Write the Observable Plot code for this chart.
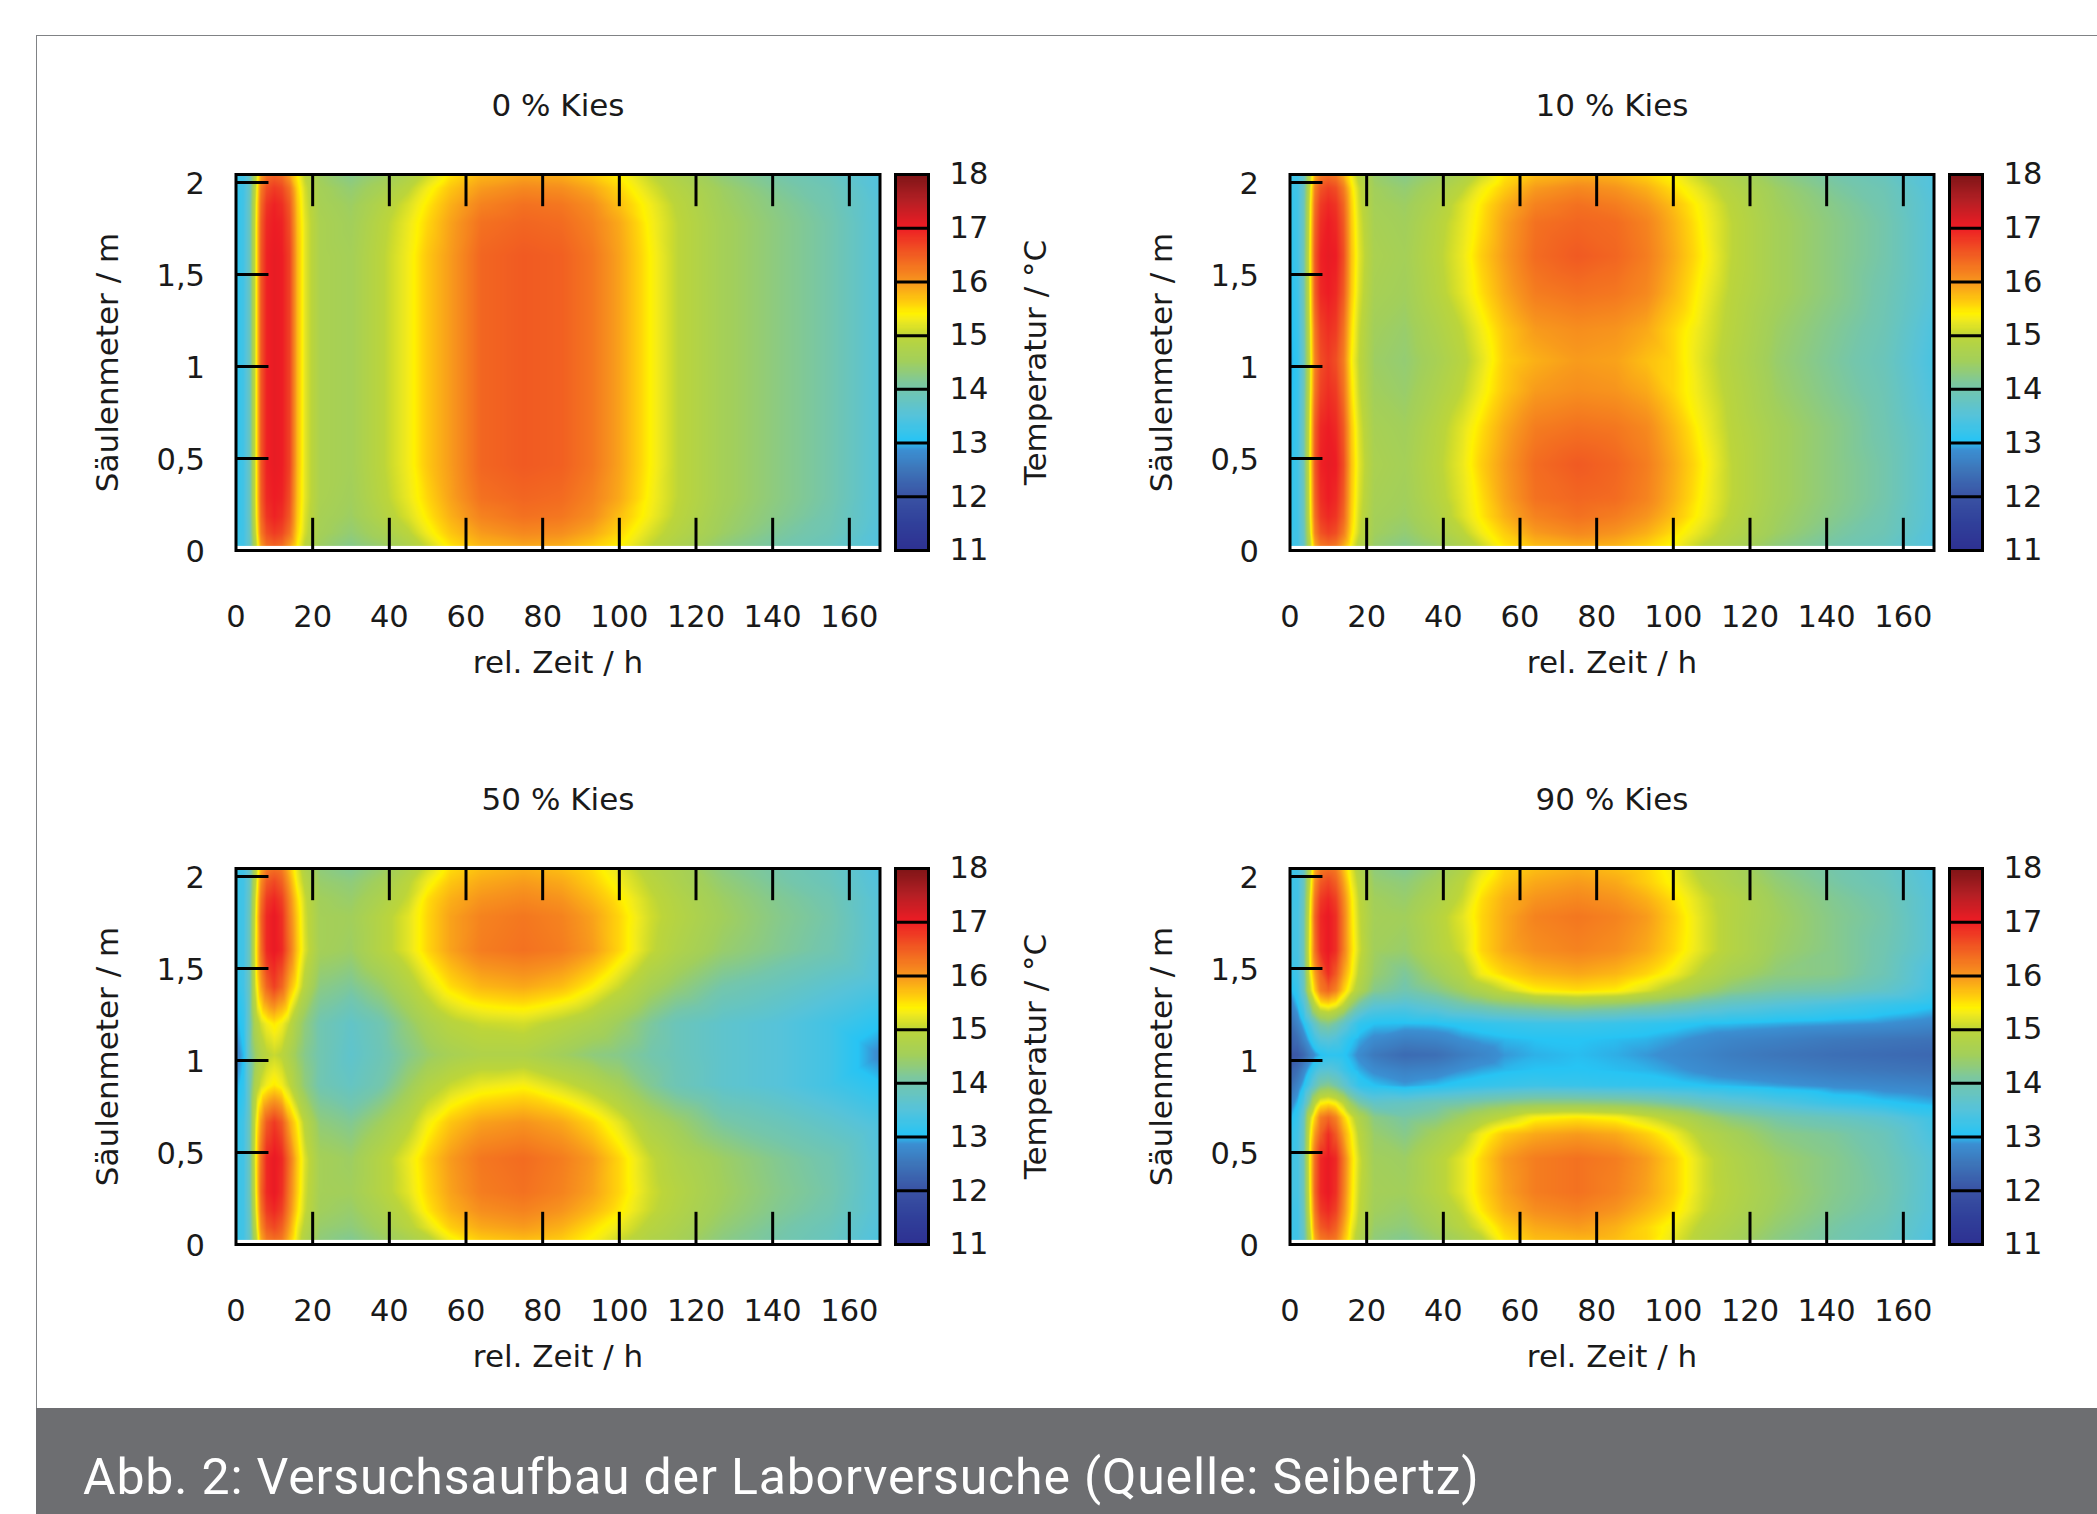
<!DOCTYPE html>
<html lang="de">
<head>
<meta charset="utf-8">
<title>Abb. 2</title>
<script src="https://cdn.jsdelivr.net/npm/d3@7"></script>
<script src="https://cdn.jsdelivr.net/npm/@observablehq/plot@0.6"></script>
<style>
html,body{margin:0;padding:0;background:#fff;width:2097px;height:1514px;overflow:hidden}
.abs{position:absolute}
#border{left:36px;top:35px;width:2061px;height:1373px;border-left:1.5px solid #808285;border-top:1.5px solid #808285;box-sizing:border-box}
#caption{left:36px;top:1408px;width:2061px;height:106px;background:#6d6e71;color:#fff;font-family:Roboto,sans-serif;font-size:50px;line-height:50px;padding:44px 0 0 47px;box-sizing:border-box;white-space:nowrap;letter-spacing:.83px}
</style>
</head>
<body>
<div id="border" class="abs"></div>
<div id="root"></div>
<div id="caption" class="abs"></div>
<script>
const captionText = "Abb. 2: Versuchsaufbau der Laborversuche (Quelle: Seibertz)";
const xLabel = "rel. Zeit / h";
const yLabel = "Säulenmeter / m";
const barLabel = "Temperatur / °C";
const xTicks = [0,20,40,60,80,100,120,140,160];
const yTicks = [0,0.5,1,1.5,2];
const barTicks = [11,12,13,14,15,16,17,18];

const times = [0,2,3.5,5,6.5,8,10,12,14,16,18,22,30,38,45,50,56,64,75,85,93,100,108,115,127,142,155,168];
const depths = [0.02,0.095,0.185,0.285,0.465,0.665,0.865,1.03,1.2,1.4,1.6,1.78,1.88,1.97,2.045];
const depths90 = [0.02,0.095,0.185,0.285,0.465,0.6,0.69,0.77,0.865,0.95,1.03,1.115,1.2,1.3,1.38,1.47,1.6,1.78,1.88,1.97,2.045];

const colorStops = [11,11.5,12,12.5,12.85,13.02,13.5,14,14.5,14.98,15.08,15.2,15.3,15.4,15.55,15.8,16,16.5,17,17.5,18];
const colorValues = ["#2e3192","#30409a","#3a53a4","#3d76ba","#3b8fd2","#27c4f4","#56c3da","#74c6ac","#a2cf5b","#bcd53a","#cfdc2c","#e4e524","#f5ec18","#fff200","#ffd50a","#fbb016","#f7941d","#f15a22","#ed1c24","#b31f24","#7c1416"];

// one row of temperatures per depth (bottom to top), one value per time
const k0mid = [13.1,13.3,13.8,15.1,16.5,16.95,17.05,17.0,16.7,15.75,15.2,14.65,14.55,14.95,15.3,15.65,15.95,16.4,16.5,16.45,16.25,15.9,15.4,15.0,14.55,14.25,14.0,13.5];
const k0near = [13.1,13.3,13.8,15.1,16.45,16.9,17.0,16.95,16.6,15.7,15.2,14.65,14.5,14.9,15.25,15.55,15.9,16.3,16.4,16.35,16.15,15.85,15.35,15.0,14.55,14.25,14.0,13.5];
const k0inner = [13.1,13.3,13.8,15.05,16.35,16.8,16.95,16.85,16.5,15.65,15.15,14.6,14.45,14.8,15.15,15.45,15.8,16.15,16.3,16.25,16.05,15.7,15.3,14.95,14.5,14.2,13.95,13.5];
const k0outer = [13.2,13.3,13.75,14.95,16.2,16.6,16.75,16.65,16.3,15.55,15.1,14.55,14.35,14.6,14.95,15.3,15.65,15.95,16.1,16.05,15.85,15.55,15.15,14.85,14.45,14.1,13.9,13.45];
const k0edge = [13.2,13.3,13.7,14.8,15.9,16.3,16.4,16.3,15.9,15.4,14.95,14.45,14.2,14.4,14.7,15.05,15.45,15.75,15.85,15.8,15.6,15.4,15.0,14.7,14.3,14.0,13.8,13.45];
const kies0 = [k0edge,k0outer,k0inner,k0near,k0mid,k0mid,k0mid,k0mid,k0mid,k0mid,k0mid,k0near,k0inner,k0outer,k0edge];

const k10blob = [13.05,13.3,13.85,15.15,16.5,16.95,17.05,17.0,16.6,15.7,15.2,14.65,14.55,14.9,15.25,15.6,15.95,16.35,16.5,16.4,16.2,15.85,15.4,15.0,14.55,14.25,14.0,13.5];
const k10shoulder = [13.0,13.25,13.85,15.1,16.45,16.9,17.0,16.9,16.5,15.65,15.15,14.6,14.5,14.85,15.2,15.5,15.85,16.2,16.3,16.25,16.1,15.75,15.3,14.95,14.55,14.25,13.95,13.5];
const k10neck = [12.95,13.2,13.8,15.0,16.25,16.7,16.85,16.75,16.3,15.5,15.05,14.5,14.4,14.7,15.0,15.3,15.65,15.95,16.05,16.0,15.85,15.55,15.2,14.9,14.45,14.15,13.9,13.4];
const k10mid = [12.9,13.15,13.75,14.95,16.15,16.6,16.75,16.6,16.2,15.4,15.0,14.45,14.35,14.6,14.9,15.2,15.6,15.8,15.95,15.9,15.7,15.55,15.15,14.85,14.4,14.1,13.85,13.35];
const k10near = [13.1,13.3,13.8,15.1,16.4,16.85,17.0,16.9,16.5,15.65,15.15,14.6,14.5,14.85,15.2,15.5,15.9,16.3,16.4,16.35,16.15,15.8,15.35,15.0,14.55,14.25,14.0,13.5];
const k10inner = [13.1,13.3,13.8,15.05,16.3,16.75,16.9,16.8,16.4,15.6,15.1,14.55,14.45,14.75,15.15,15.45,15.8,16.15,16.3,16.2,16.0,15.7,15.3,14.95,14.5,14.2,13.95,13.5];
const k10outer = [13.2,13.3,13.75,14.95,16.15,16.55,16.7,16.6,16.2,15.5,15.05,14.5,14.35,14.6,14.95,15.3,15.6,15.95,16.1,16.0,15.8,15.5,15.15,14.85,14.45,14.1,13.9,13.45];
const k10edge = [13.2,13.3,13.7,14.8,15.8,16.2,16.3,16.2,15.8,15.3,14.85,14.4,14.2,14.4,14.7,15.05,15.45,15.7,15.8,15.75,15.55,15.35,14.95,14.7,14.3,14.0,13.8,13.45];
const kies10 = [k10edge,k10outer,k10inner,k10near,k10blob,k10shoulder,k10neck,k10mid,k10neck,k10shoulder,k10blob,k10near,k10inner,k10outer,k10edge];

const kies50 = [
[13.2,13.3,13.7,14.75,15.8,16.2,16.3,16.2,15.7,15.2,14.75,14.3,14.15,14.4,14.6,14.85,15.3,15.6,15.7,15.6,15.35,15.05,14.75,14.6,14.25,14.0,13.8,13.4],
[13.2,13.3,13.75,14.9,16.05,16.5,16.65,16.45,15.9,15.3,14.9,14.4,14.3,14.55,14.9,15.2,15.6,15.85,15.95,15.8,15.5,15.25,14.9,14.7,14.35,14.05,13.85,13.45],
[13.2,13.3,13.8,15.05,16.25,16.75,16.9,16.7,16.1,15.5,15.05,14.5,14.4,14.7,15.05,15.45,15.8,16.05,16.15,16.0,15.75,15.45,15.05,14.8,14.45,14.15,13.95,13.5],
[13.2,13.3,13.85,15.15,16.4,16.9,17.05,16.85,16.2,15.6,15.1,14.55,14.5,14.85,15.2,15.55,15.9,16.2,16.3,16.15,15.9,15.55,15.1,14.85,14.5,14.2,14.0,13.5],
[13.2,13.3,13.85,15.2,16.3,16.9,17.05,16.9,16.3,15.65,15.15,14.55,14.45,14.85,15.25,15.6,15.95,16.25,16.35,16.2,15.95,15.55,15.05,14.75,14.45,14.15,13.95,13.5],
[13.1,13.3,13.85,15.1,15.95,16.5,16.75,16.5,15.85,15.4,14.9,14.3,14.15,14.5,14.9,15.3,15.65,15.9,16.0,15.85,15.55,15.2,14.7,14.45,14.05,13.85,13.65,13.4],
[12.9,13.15,13.85,14.7,15.1,15.3,15.45,15.3,15.0,14.6,14.3,13.95,13.75,14.0,14.45,14.8,15.05,15.25,15.35,15.1,14.85,14.55,14.15,13.9,13.65,13.5,13.3,13.05],
[12.7,13.0,13.9,14.4,14.75,14.95,15.05,14.95,14.7,14.4,14.2,13.95,13.65,13.9,14.2,14.4,14.6,14.75,14.75,14.5,14.3,14.2,14.0,13.85,13.65,13.5,13.3,12.8],
[12.9,13.15,13.85,14.7,15.1,15.3,15.45,15.3,15.0,14.6,14.3,13.95,13.7,13.95,14.35,14.65,14.9,15.05,15.1,14.9,14.7,14.45,14.1,13.85,13.65,13.5,13.3,13.05],
[13.1,13.3,13.85,15.1,15.9,16.4,16.7,16.4,15.8,15.35,14.85,14.25,14.1,14.4,14.8,15.15,15.5,15.75,15.85,15.7,15.4,15.05,14.6,14.35,14.0,13.8,13.6,13.4],
[13.2,13.3,13.85,15.2,16.3,16.9,17.05,16.9,16.3,15.65,15.15,14.55,14.45,14.85,15.2,15.55,15.9,16.2,16.3,16.2,15.95,15.55,15.05,14.75,14.4,14.15,13.95,13.5],
[13.2,13.3,13.85,15.15,16.4,16.9,17.05,16.85,16.2,15.6,15.1,14.55,14.5,14.85,15.2,15.55,15.9,16.15,16.25,16.15,15.9,15.55,15.1,14.85,14.5,14.2,14.0,13.5],
[13.2,13.3,13.8,15.05,16.25,16.75,16.9,16.7,16.1,15.5,15.05,14.5,14.4,14.7,15.05,15.5,15.8,16.0,16.1,16.0,15.75,15.45,15.05,14.8,14.45,14.15,13.95,13.5],
[13.2,13.3,13.75,14.9,16.05,16.5,16.65,16.45,15.9,15.3,14.9,14.4,14.3,14.55,14.95,15.3,15.65,15.85,15.95,15.85,15.6,15.3,14.95,14.7,14.35,14.05,13.85,13.45],
[13.2,13.3,13.7,14.75,15.8,16.2,16.3,16.2,15.7,15.2,14.75,14.3,14.15,14.4,14.75,15.1,15.5,15.7,15.8,15.7,15.5,15.2,14.85,14.65,14.25,14.0,13.8,13.4]
];
const kies90 = [
[13.2,13.3,13.7,14.75,15.8,16.2,16.3,16.2,15.7,15.2,14.75,14.3,14.15,14.4,14.6,14.9,15.45,15.7,15.75,15.7,15.55,15.2,14.8,14.6,14.25,14.0,13.8,13.4],
[13.2,13.3,13.75,14.9,16.05,16.5,16.65,16.45,15.9,15.3,14.9,14.4,14.3,14.55,14.9,15.2,15.6,15.85,15.95,15.8,15.55,15.3,14.9,14.7,14.35,14.05,13.85,13.45],
[13.25,13.3,13.8,15.05,16.25,16.75,16.9,16.7,16.1,15.45,15.0,14.5,14.4,14.7,15.05,15.45,15.8,16.05,16.15,16.0,15.75,15.5,15.05,14.8,14.45,14.15,13.95,13.5],
[13.3,13.35,13.85,15.15,16.4,16.9,17.05,16.85,16.2,15.5,15.05,14.55,14.5,14.85,15.2,15.55,15.9,16.2,16.3,16.15,15.9,15.6,15.1,14.85,14.5,14.2,14.0,13.5],
[13.25,13.35,13.85,15.2,16.35,16.9,17.05,16.9,16.25,15.55,15.1,14.5,14.45,14.85,15.2,15.55,15.95,16.2,16.3,16.2,15.95,15.6,15.1,14.8,14.45,14.2,13.95,13.5],
[13.1,13.3,13.8,15.1,15.95,16.45,16.85,16.5,15.9,15.4,14.95,14.4,14.2,14.55,14.9,15.3,15.65,15.85,15.95,15.85,15.6,15.3,14.85,14.6,14.25,14.1,13.85,13.35],
[12.95,13.2,13.75,14.9,15.6,16.2,16.4,16.15,15.6,15.15,14.75,14.25,14.05,14.2,14.5,14.75,15.0,15.35,15.45,15.35,15.1,14.85,14.5,14.25,14.0,13.8,13.6,13.25],
[12.7,13.0,13.4,14.1,14.9,15.35,15.45,15.3,14.95,14.4,14.05,13.7,13.75,13.9,14.0,14.1,14.2,14.3,14.3,14.25,14.15,14.0,13.8,13.65,13.45,13.2,13.05,12.95],
[12.4,12.7,13.0,13.35,13.75,14.1,14.2,14.0,13.7,13.4,13.15,13.02,12.9,13.0,13.1,13.15,13.2,13.25,13.2,13.15,13.12,13.08,13.02,12.98,12.9,12.8,12.75,12.7],
[12.2,12.4,12.7,13.0,13.3,13.5,13.55,13.45,13.25,13.05,12.95,12.8,12.65,12.7,12.85,12.92,12.98,13.02,13.03,13.0,12.97,12.9,12.8,12.72,12.65,12.55,12.5,12.45],
[12.05,12.1,12.3,12.6,12.85,13.0,13.1,13.1,13.05,12.95,12.8,12.55,12.35,12.4,12.6,12.72,12.88,12.96,13.0,12.95,12.88,12.8,12.7,12.6,12.5,12.4,12.35,12.3],
[12.2,12.4,12.7,13.0,13.3,13.5,13.55,13.45,13.25,13.05,12.95,12.8,12.65,12.7,12.85,12.92,12.98,13.02,13.03,13.0,12.97,12.9,12.8,12.72,12.65,12.55,12.5,12.45],
[12.4,12.7,13.0,13.35,13.75,14.1,14.2,14.0,13.7,13.4,13.15,13.02,13.0,13.02,13.1,13.15,13.2,13.25,13.25,13.2,13.15,13.1,13.02,13.0,12.95,12.9,12.85,12.75],
[12.7,13.0,13.4,14.1,14.9,15.35,15.45,15.3,14.95,14.4,14.0,13.6,13.5,13.7,13.95,14.05,14.2,14.3,14.4,14.3,14.15,14.0,13.8,13.65,13.5,13.35,13.2,13.05],
[12.95,13.2,13.75,14.9,15.6,16.2,16.4,16.15,15.6,15.15,14.75,14.2,13.95,14.2,14.5,14.75,15.05,15.4,15.5,15.42,15.15,14.85,14.5,14.25,14.05,13.95,13.7,13.3],
[13.1,13.3,13.8,15.1,15.9,16.4,16.85,16.5,15.9,15.4,14.95,14.4,14.1,14.5,14.85,15.3,15.55,15.75,15.85,15.75,15.55,15.3,14.9,14.6,14.3,14.2,13.9,13.35],
[13.25,13.35,13.85,15.2,16.3,16.85,17.05,16.85,16.2,15.55,15.1,14.5,14.4,14.8,15.1,15.55,15.85,16.05,16.15,16.05,15.85,15.55,15.15,14.85,14.45,14.2,13.95,13.5],
[13.3,13.35,13.85,15.15,16.4,16.9,17.05,16.85,16.2,15.5,15.05,14.55,14.5,14.85,15.2,15.55,15.85,16.15,16.25,16.15,15.95,15.6,15.15,14.85,14.5,14.2,14.0,13.5],
[13.25,13.3,13.8,15.05,16.25,16.75,16.9,16.7,16.1,15.45,15.0,14.5,14.4,14.7,15.05,15.5,15.8,16.0,16.1,16.0,15.8,15.5,15.1,14.85,14.45,14.15,13.95,13.5],
[13.2,13.3,13.75,14.9,16.05,16.5,16.65,16.45,15.9,15.3,14.9,14.4,14.3,14.55,14.95,15.35,15.65,15.85,15.95,15.85,15.6,15.35,14.95,14.7,14.35,14.05,13.85,13.45],
[13.2,13.3,13.7,14.75,15.8,16.2,16.3,16.2,15.7,15.2,14.75,14.3,14.15,14.4,14.75,15.2,15.55,15.7,15.8,15.7,15.55,15.3,14.85,14.65,14.25,14.0,13.8,13.4]
];

const panels = [
  {title:"0 % Kies", grid:kies0, rows:depths, col:0, row:0, temp:true},
  {title:"10 % Kies", grid:kies10, rows:depths, col:1, row:0, temp:false},
  {title:"50 % Kies", grid:kies50, rows:depths, col:0, row:1, temp:true},
  {title:"90 % Kies", grid:kies90, rows:depths90, col:1, row:1, temp:false}
];

const fontFamily = "'DejaVu Sans'";
const colorScale = {type:"linear", domain:colorStops, range:colorValues, clamp:true};
const commaFormat = d => String(d).replace(".", ",");
const root = document.getElementById("root");
document.getElementById("caption").textContent = captionText;

function place(node, left, top){
  node.classList.add("abs");
  node.style.left = left + "px";
  node.style.top = top + "px";
  root.appendChild(node);
}

for (const p of panels){
  const originX = 40 + p.col*1053.5;
  const originY = 44 + p.row*694;
  const cells = [];
  p.rows.forEach((z,i)=>times.forEach((t,j)=>cells.push({t, z, v:p.grid[i][j]})));

  const chart = Plot.plot({
    width:850, height:130+376+150,
    marginLeft:195.5, marginRight:10.5, marginTop:130, marginBottom:150,
    style:{fontFamily, fontSize:"30.5px", background:"transparent", color:"#1a1a1a", overflow:"visible"},
    x:{domain:[0,168]},
    y:{domain:[0,2.0435]},
    color:colorScale,
    marks:[
      Plot.raster(cells,{x:"t",y:"z",fill:"v",interpolate:"barycentric",x1:0,x2:168,y1:0.025,y2:2.0435,pixelSize:1,imageRendering:"auto"}),
      Plot.ruleX(xTicks.slice(1),{y1:()=>0,y2:()=>0.175,stroke:"black",strokeWidth:3}),
      Plot.ruleX(xTicks.slice(1),{y1:()=>2.0435,y2:()=>1.8685,stroke:"black",strokeWidth:3}),
      Plot.ruleY(yTicks,{x1:()=>0,x2:()=>8.6,stroke:"black",strokeWidth:3}),
      Plot.frame({stroke:"black",strokeWidth:3,fill:"none"}),
      Plot.axisX({ticks:xTicks,tickSize:0,tickPadding:55,label:null,anchor:"bottom"}),
      Plot.axisY({ticks:yTicks,tickSize:0,tickPadding:31,tickFormat:commaFormat,label:null,anchor:"left",dy:1.3}),
      Plot.text([xLabel],{frameAnchor:"bottom",dy:113,lineAnchor:"middle",text:d=>d,fontSize:31}),
      Plot.text([yLabel],{frameAnchor:"left",dx:-128,rotate:-90,textAnchor:"middle",lineAnchor:"middle",text:d=>d,fontSize:31}),
      Plot.text([p.title],{frameAnchor:"top",dy:-68,lineAnchor:"middle",text:d=>d,fontSize:31})
    ]
  });
  place(chart, originX, originY);

  const levels = d3.range(11,18,0.02);
  const bar = Plot.plot({
    width:200, height:130+376+150,
    marginLeft:10, marginRight:157, marginTop:130, marginBottom:150,
    style:{fontFamily, fontSize:"30.5px", background:"transparent", color:"#1a1a1a", overflow:"visible"},
    x:{domain:[0,1], axis:null},
    y:{domain:[11,18]},
    color:colorScale,
    marks:[
      Plot.rect(levels,{x1:()=>0,x2:()=>1,y1:d=>d,y2:d=>d+0.02,fill:d=>d,shapeRendering:"crispEdges"}),
      Plot.ruleY(barTicks.slice(1,-1),{stroke:"black",strokeWidth:3}),
      Plot.frame({stroke:"black",strokeWidth:3,fill:"none"}),
      Plot.axisY({ticks:barTicks,tickSize:0,tickPadding:21,tickFormat:d=>String(d),label:null,anchor:"right"}),
      ...(p.temp ? [Plot.text([barLabel],{frameAnchor:"right",dx:108,rotate:-90,textAnchor:"middle",lineAnchor:"middle",text:d=>d,fontSize:31})] : [])
    ]
  });
  place(bar, originX+845, originY);
}
</script>
</body>
</html>
